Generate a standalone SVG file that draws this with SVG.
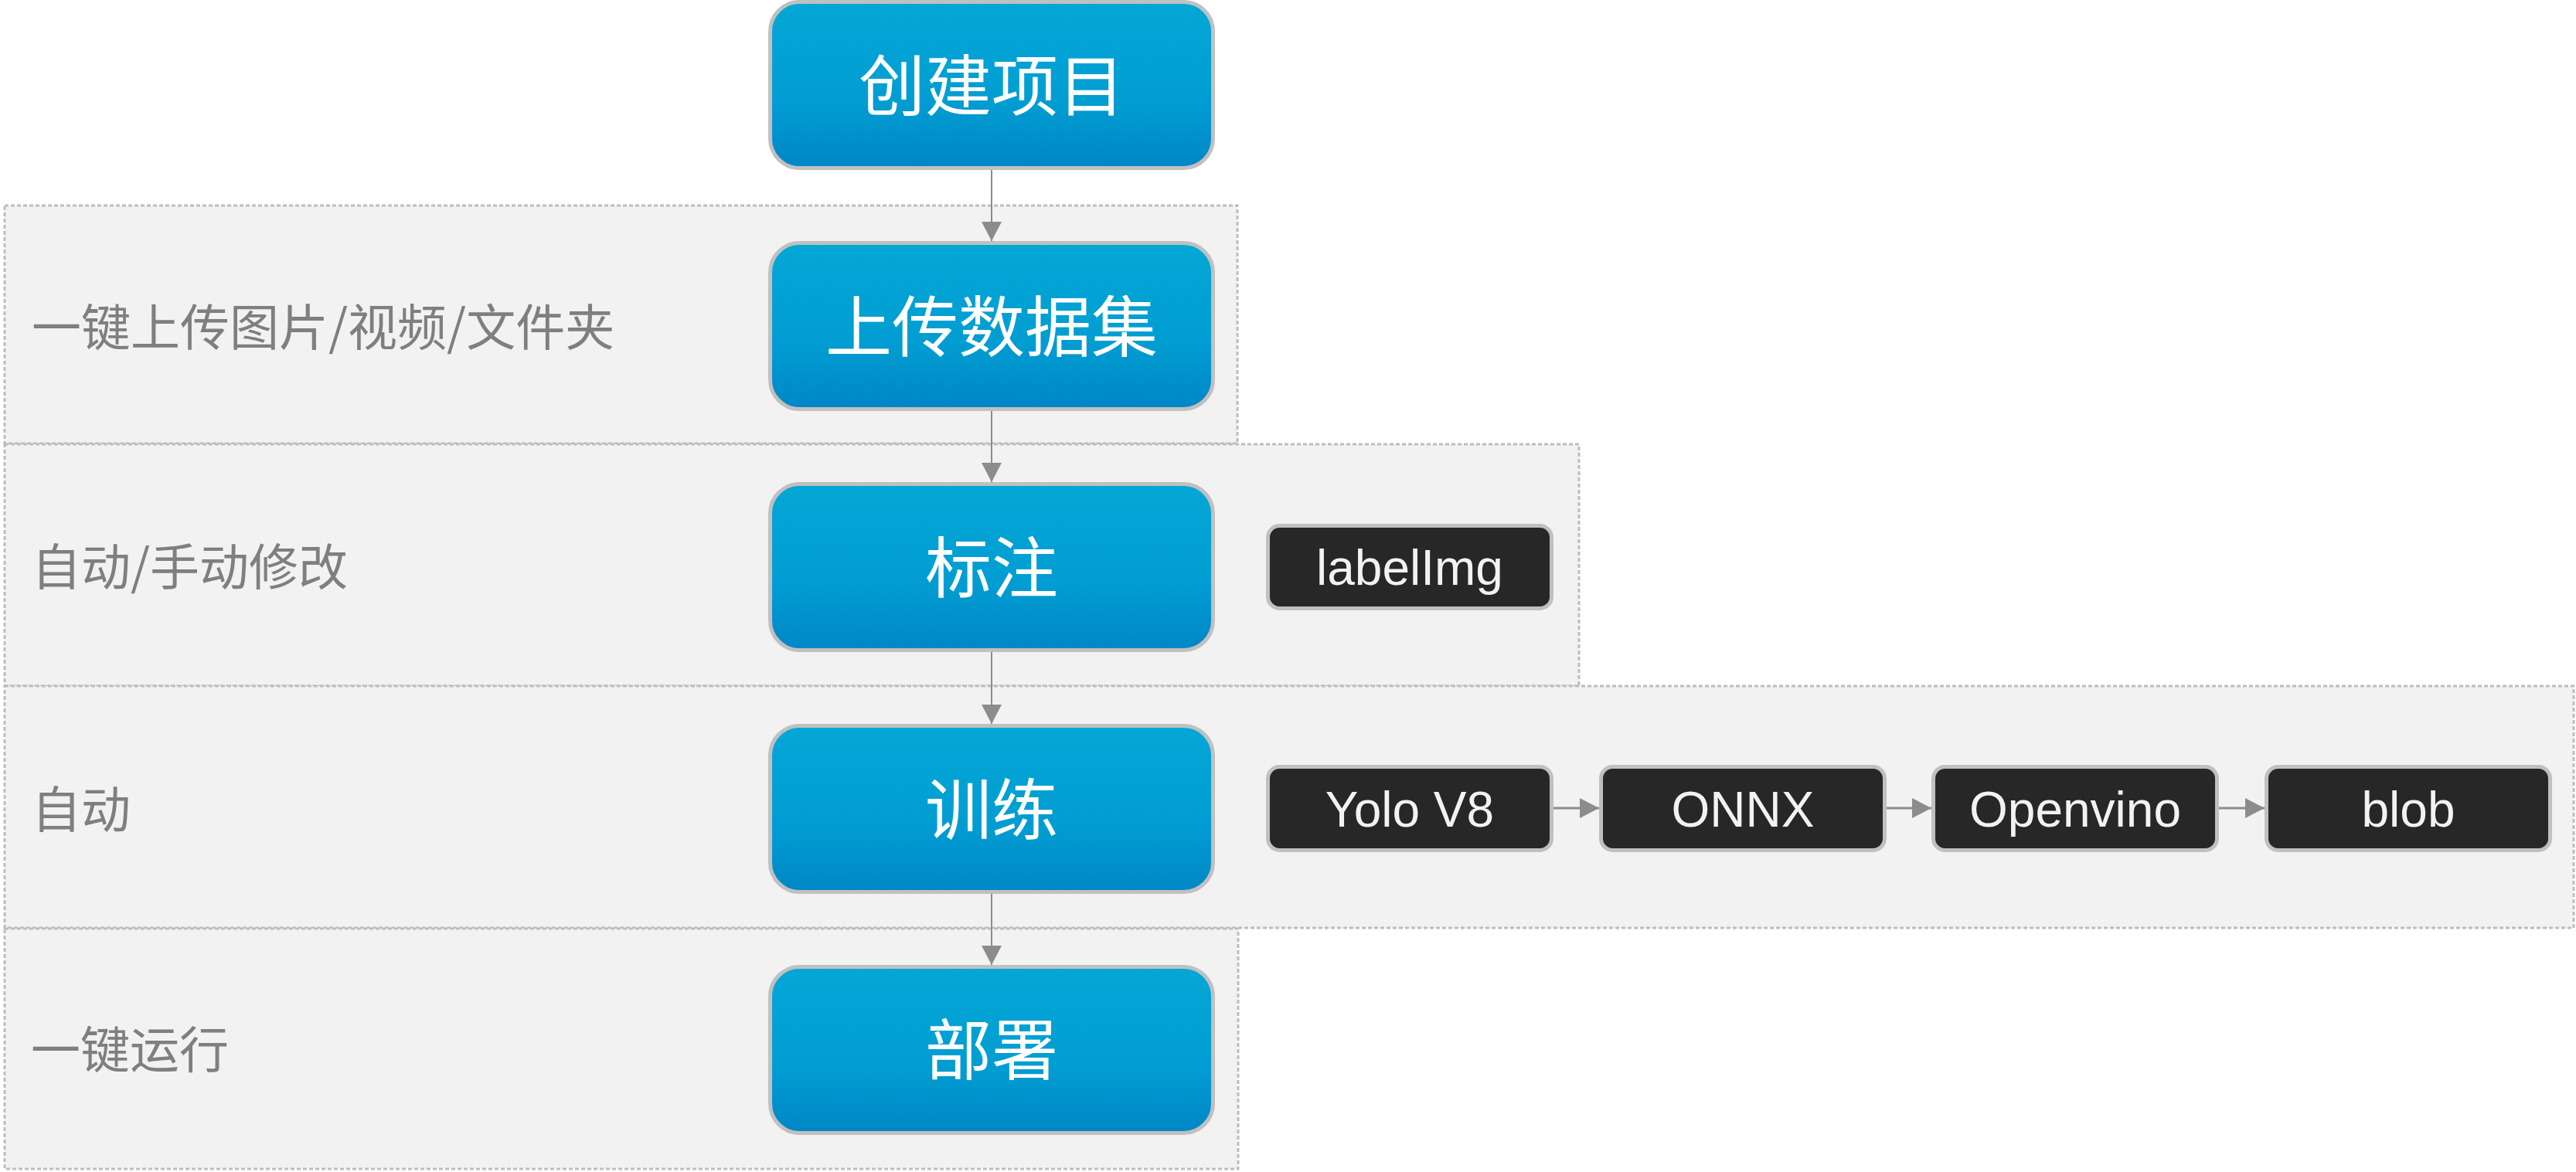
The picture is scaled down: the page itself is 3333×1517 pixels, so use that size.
<svg xmlns="http://www.w3.org/2000/svg" width="3333" height="1517" viewBox="0 0 3333 1517">
<style>
.band{fill:#f2f2f2;stroke:#bdbdbd;stroke-width:3;stroke-dasharray:5 3}
.blue{fill:url(#gBlue);stroke:#c0c0c0;stroke-width:5}
.dark{fill:#272727;stroke:#c0c0c0;stroke-width:5}
.bt{font-family:"Noto Sans CJK SC","Noto Sans",sans-serif;font-size:86px;fill:#ffffff;text-anchor:middle}
.lt{font-family:"Noto Sans CJK SC","Noto Sans",sans-serif;font-size:64px;fill:#7f7f7f}
.dt{font-family:"Liberation Sans",Arial,sans-serif;font-size:64px;fill:#f2f2f2;text-anchor:middle}
.con{stroke:#8c8c8c;fill:none}
</style>
<defs>
<linearGradient id="gBlue" x1="0" y1="0" x2="0" y2="1">
<stop offset="0" stop-color="#04a7d6"/>
<stop offset="0.6" stop-color="#019dd2"/>
<stop offset="1" stop-color="#0086c6"/>
</linearGradient>
<marker id="ah" viewBox="0 0 25 26" refX="25" refY="13" markerWidth="25" markerHeight="26" markerUnits="userSpaceOnUse" orient="auto">
<path d="M0,0 L25,13 L0,26 z" fill="#8c8c8c"/>
</marker>
</defs>

<g id="bands">
<rect class="band" x="6" y="266" width="1595" height="308"/>
<rect class="band" x="6" y="575" width="2037" height="313"/>
<rect class="band" x="6" y="888" width="3324" height="313"/>
<rect class="band" x="6" y="1202" width="1596" height="311"/>
</g>

<g id="band-labels">
<text class="lt" x="41" y="447">一键上传图片/视频/文件夹</text>
<text class="lt" x="41" y="757">自动/手动修改</text>
<text class="lt" x="41" y="1071">自动</text>
<text class="lt" x="40" y="1382">一键运行</text>
</g>

<g id="connectors">
<line class="con" stroke-width="2" x1="1283" y1="220" x2="1283" y2="312" marker-end="url(#ah)"/>
<line class="con" stroke-width="2" x1="1283" y1="532" x2="1283" y2="624" marker-end="url(#ah)"/>
<line class="con" stroke-width="2" x1="1283" y1="844" x2="1283" y2="937" marker-end="url(#ah)"/>
<line class="con" stroke-width="2" x1="1283" y1="1156" x2="1283" y2="1249" marker-end="url(#ah)"/>
<line class="con" stroke-width="3" x1="2010" y1="1046" x2="2069" y2="1046" marker-end="url(#ah)"/>
<line class="con" stroke-width="3" x1="2441" y1="1046" x2="2499" y2="1046" marker-end="url(#ah)"/>
<line class="con" stroke-width="3" x1="2871" y1="1046" x2="2930" y2="1046" marker-end="url(#ah)"/>
</g>

<g id="n-create">
<rect class="blue" x="996.5" y="2.5" width="573" height="215" rx="38"/>
<text class="bt" x="1283" y="143">创建项目</text>
</g>
<g id="n-upload">
<rect class="blue" x="996.5" y="314.5" width="573" height="215" rx="38"/>
<text class="bt" x="1283" y="455">上传数据集</text>
</g>
<g id="n-label">
<rect class="blue" x="996.5" y="626.5" width="573" height="215" rx="38"/>
<text class="bt" x="1283" y="767">标注</text>
</g>
<g id="n-train">
<rect class="blue" x="996.5" y="939.5" width="573" height="215" rx="38"/>
<text class="bt" x="1283" y="1080">训练</text>
</g>
<g id="n-deploy">
<rect class="blue" x="996.5" y="1251.5" width="573" height="215" rx="38"/>
<text class="bt" x="1283" y="1391">部署</text>
</g>

<g id="n-labelimg">
<rect class="dark" x="1640.5" y="680.5" width="367" height="107" rx="15"/>
<text class="dt" x="1824" y="757">labelImg</text>
</g>
<g id="n-yolo">
<rect class="dark" x="1640.5" y="992.5" width="367" height="108" rx="15"/>
<text class="dt" x="1824" y="1070">Yolo V8</text>
</g>
<g id="n-onnx">
<rect class="dark" x="2071.5" y="992.5" width="367" height="108" rx="15"/>
<text class="dt" x="2255" y="1070">ONNX</text>
</g>
<g id="n-openvino">
<rect class="dark" x="2501.5" y="992.5" width="367" height="108" rx="15"/>
<text class="dt" x="2685" y="1070">Openvino</text>
</g>
<g id="n-blob">
<rect class="dark" x="2932.5" y="992.5" width="367" height="108" rx="15"/>
<text class="dt" x="3116" y="1070">blob</text>
</g>
</svg>
